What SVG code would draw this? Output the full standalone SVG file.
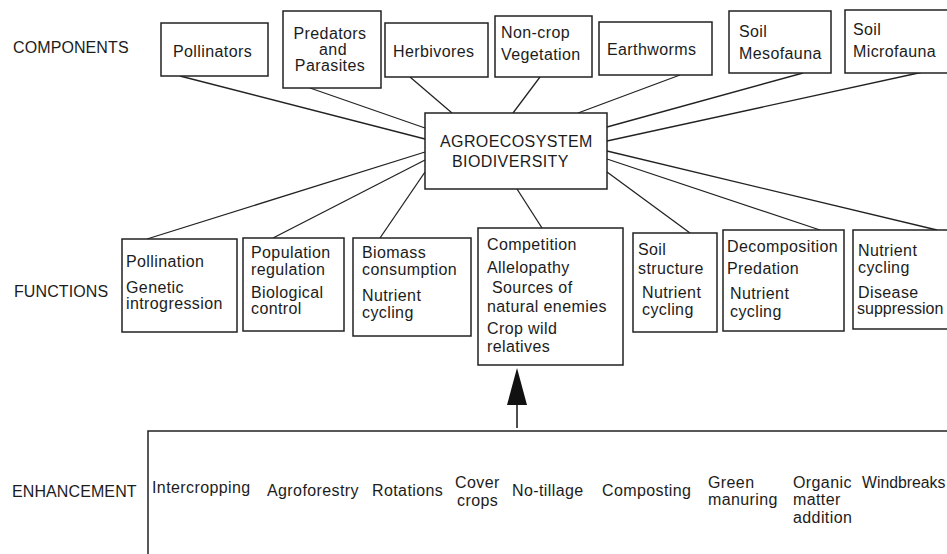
<svg xmlns="http://www.w3.org/2000/svg" width="947" height="554" viewBox="0 0 947 554">
<style>
text{font-family:"Liberation Sans",Arial,Helvetica,sans-serif;font-size:16px;fill:#1c1c1c;}
.t{letter-spacing:0.4px;}
.lab{letter-spacing:0.1px;}
.box{fill:#fff;stroke:#222;stroke-width:1.5;}
.con line{stroke:#222;stroke-width:1.3;}
</style>
<rect width="947" height="554" fill="#fff"/>
<text class="lab" x="13" y="53">COMPONENTS</text>
<text class="lab" x="14" y="297">FUNCTIONS</text>
<text class="lab" x="12" y="497">ENHANCEMENT</text>
<g id="connectors" class="con">
<line x1="180" y1="76" x2="425" y2="139"/>
<line x1="310" y1="88" x2="425" y2="128"/>
<line x1="410" y1="77" x2="452" y2="113"/>
<line x1="540" y1="77" x2="513" y2="113"/>
<line x1="680" y1="75" x2="578" y2="113"/>
<line x1="803" y1="73" x2="607" y2="127"/>
<line x1="923" y1="72" x2="607" y2="141"/>
<line x1="425" y1="152" x2="147" y2="239"/>
<line x1="425" y1="160" x2="273" y2="238"/>
<line x1="425" y1="172" x2="380" y2="238"/>
<line x1="517" y1="189" x2="542" y2="228"/>
<line x1="607" y1="172" x2="690" y2="233"/>
<line x1="607" y1="159" x2="820" y2="230"/>
<line x1="607" y1="151" x2="937" y2="230"/>
<line x1="517" y1="428" x2="517" y2="400" style="stroke-width:1.6"/>
<polygon points="517,368 507,405 527,405" fill="#111"/>
</g>
<g id="pollinators"><rect class="box" x="161" y="23" width="107" height="53"/><text class="t" x="173" y="57">Pollinators</text></g>
<g id="predators"><rect class="box" x="283" y="11" width="98" height="77"/>
<text class="t" x="330" y="39" text-anchor="middle">Predators</text>
<text class="t" x="333" y="55" text-anchor="middle">and</text>
<text class="t" x="330" y="71" text-anchor="middle">Parasites</text></g>
<g id="herbivores"><rect class="box" x="385" y="23" width="103" height="54"/><text class="t" x="393" y="57">Herbivores</text></g>
<g id="noncrop"><rect class="box" x="495" y="16" width="97" height="61"/>
<text class="t" x="501" y="38">Non-crop</text><text class="t" x="501" y="60">Vegetation</text></g>
<g id="earthworms"><rect class="box" x="599" y="22" width="113" height="53"/><text class="t" x="607" y="55">Earthworms</text></g>
<g id="mesofauna"><rect class="box" x="729" y="11" width="102" height="62"/>
<text class="t" x="739" y="37">Soil</text><text class="t" x="739" y="59">Mesofauna</text></g>
<g id="microfauna"><rect class="box" x="845" y="10" width="120" height="63"/>
<text class="t" x="853" y="35">Soil</text><text class="t" x="853" y="57">Microfauna</text></g>
<g id="biodiversity"><rect class="box" x="425" y="113" width="182" height="76"/>
<text class="t" x="440" y="147">AGROECOSYSTEM</text>
<text class="t" x="452" y="167">BIODIVERSITY</text></g>
<g id="f-pollination"><rect class="box" x="122" y="239" width="115" height="93"/>
<text class="t" x="126" y="267">Pollination</text>
<text class="t" x="126" y="293">Genetic</text>
<text class="t" x="126" y="309">introgression</text></g>
<g id="f-population"><rect class="box" x="243" y="238" width="101" height="93"/>
<text class="t" x="251" y="258">Population</text>
<text class="t" x="251" y="275">regulation</text>
<text class="t" x="251" y="298">Biological</text>
<text class="t" x="251" y="314">control</text></g>
<g id="f-biomass"><rect class="box" x="353" y="238" width="118" height="98"/>
<text class="t" x="362" y="258">Biomass</text>
<text class="t" x="362" y="275">consumption</text>
<text class="t" x="362" y="301">Nutrient</text>
<text class="t" x="362" y="318">cycling</text></g>
<g id="f-competition"><rect class="box" x="478" y="228" width="145" height="137"/>
<text class="t" x="487" y="250">Competition</text>
<text class="t" x="487" y="273">Allelopathy</text>
<text class="t" x="492" y="293">Sources of</text>
<text class="t" x="487" y="312">natural enemies</text>
<text class="t" x="487" y="334">Crop wild</text>
<text class="t" x="487" y="352">relatives</text></g>
<g id="f-soil"><rect class="box" x="633" y="233" width="84" height="99"/>
<text class="t" x="638" y="255">Soil</text>
<text class="t" x="638" y="274">structure</text>
<text class="t" x="642" y="298">Nutrient</text>
<text class="t" x="642" y="315">cycling</text></g>
<g id="f-decomposition"><rect class="box" x="723" y="230" width="121" height="101"/>
<text class="t" x="727" y="252">Decomposition</text>
<text class="t" x="727" y="274">Predation</text>
<text class="t" x="730" y="299">Nutrient</text>
<text class="t" x="730" y="317">cycling</text></g>
<g id="f-nutrient"><rect class="box" x="853" y="230" width="110" height="99"/>
<text class="t" x="858" y="256">Nutrient</text>
<text class="t" x="858" y="273">cycling</text>
<text class="t" x="858" y="298">Disease</text>
<text class="t" x="857" y="314" style="letter-spacing:0">suppression</text></g>
<g id="enhancement"><rect class="box" x="148" y="431" width="830" height="150"/>
<text class="t" x="152" y="493">Intercropping</text>
<text class="t" x="267" y="496">Agroforestry</text>
<text class="t" x="372" y="496">Rotations</text>
<text class="t" x="455" y="488">Cover</text>
<text class="t" x="457" y="506">crops</text>
<text class="t" x="512" y="496">No-tillage</text>
<text class="t" x="602" y="496">Composting</text>
<text class="t" x="708" y="488">Green</text>
<text class="t" x="708" y="505">manuring</text>
<text class="t" x="793" y="488">Organic</text>
<text class="t" x="793" y="505">matter</text>
<text class="t" x="793" y="523">addition</text>
<text x="862" y="488" style="font-size:15.8px">Windbreaks</text></g>
</svg>
